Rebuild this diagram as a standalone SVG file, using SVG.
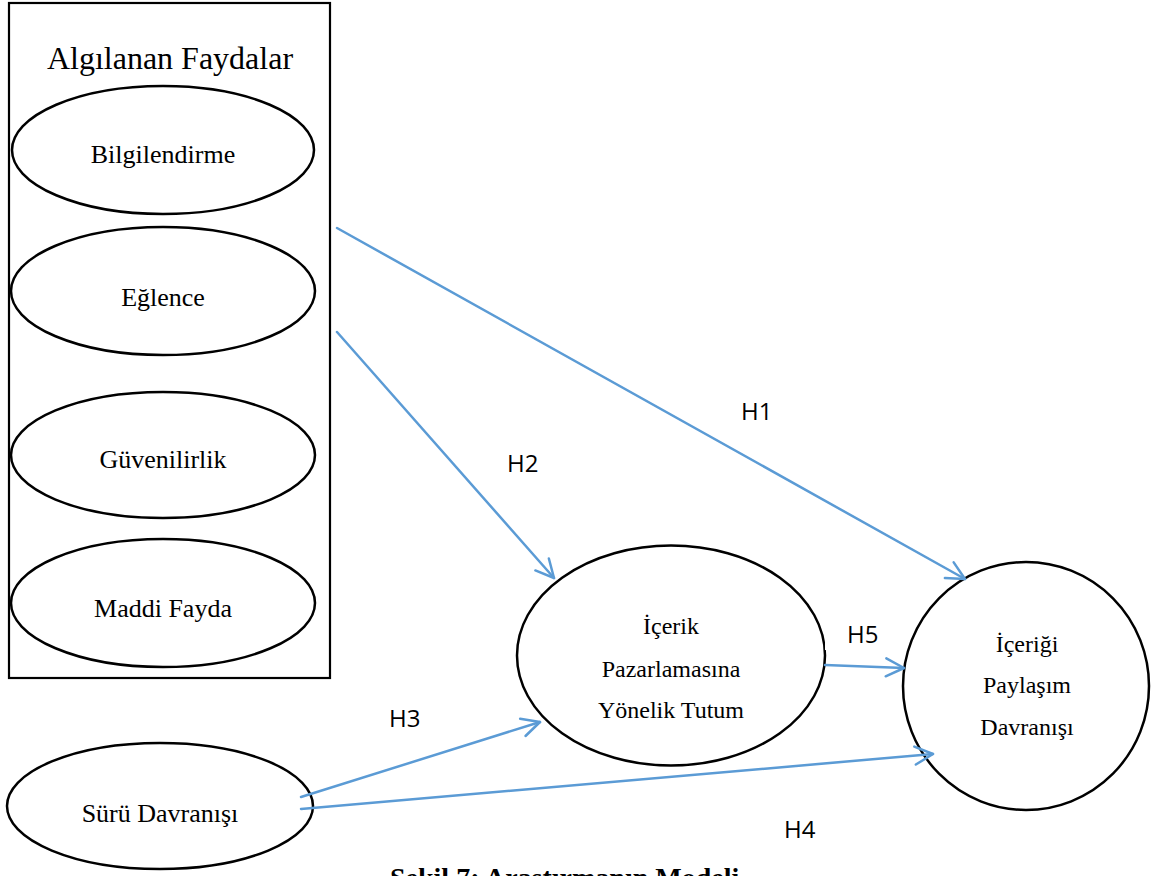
<svg xmlns="http://www.w3.org/2000/svg" width="1157" height="876" viewBox="0 0 1157 876">
  <style>
    .node { fill: #ffffff; stroke: #000000; stroke-width: 2.5; }
    .frame { fill: #ffffff; stroke: #000000; stroke-width: 2.2; }
    .lbl { font-family: "Liberation Serif", "Times New Roman", serif; fill: #000000; text-anchor: middle; }
    .small { font-size: 24px; }
    .mid { font-size: 26px; }
    .hyp { font-family: "Open Sans", "Noto Sans", sans-serif; font-size: 24px; fill: #000000; }
    .edge { fill: none; stroke: #5B9BD5; stroke-width: 2.5; stroke-linecap: round; }
    .cap { font-family: "Liberation Serif", "Times New Roman", serif; font-weight: bold; font-size: 28px; fill: #000000; }
  </style>
  <defs>
    <marker id="open" markerUnits="userSpaceOnUse" markerWidth="22" markerHeight="22" refX="19" refY="10" orient="auto" overflow="visible">
      <path d="M1,1 L19,10 L1,19" fill="none" stroke="#5B9BD5" stroke-width="2.5" stroke-linecap="round" stroke-linejoin="round"/>
    </marker>
  </defs>

  <rect width="1157" height="876" fill="#ffffff"/>

  <!-- perceived benefits block -->
  <g id="benefits">
    <rect class="frame" x="9" y="3" width="321" height="675"/>
    <text class="lbl" x="170" y="69" font-size="32">Algılanan Faydalar</text>
  </g>
  <g id="bilgilendirme">
    <ellipse class="node" cx="163" cy="150" rx="151" ry="64"/>
    <text class="lbl mid" x="163" y="163">Bilgilendirme</text>
  </g>
  <g id="eglence">
    <ellipse class="node" cx="163" cy="291" rx="152" ry="64"/>
    <text class="lbl mid" x="163" y="306">Eğlence</text>
  </g>
  <g id="guvenilirlik">
    <ellipse class="node" cx="163" cy="455" rx="152" ry="63"/>
    <text class="lbl mid" x="163" y="468">Güvenilirlik</text>
  </g>
  <g id="maddi-fayda">
    <ellipse class="node" cx="163" cy="603" rx="152" ry="64"/>
    <text class="lbl mid" x="163" y="617">Maddi Fayda</text>
  </g>

  <g id="suru-davranisi">
    <ellipse class="node" cx="160" cy="806" rx="153" ry="63"/>
    <text class="lbl mid" x="160" y="822">Sürü Davranışı</text>
  </g>

  <g id="tutum">
    <ellipse class="node" cx="671" cy="655.5" rx="154" ry="110"/>
    <text class="lbl small" x="671" y="634">İçerik</text>
    <text class="lbl small" x="671" y="677">Pazarlamasına</text>
    <text class="lbl small" x="671" y="718">Yönelik Tutum</text>
  </g>

  <g id="paylasim">
    <ellipse class="node" cx="1026" cy="686" rx="123" ry="124"/>
    <text class="lbl small" x="1027" y="652">İçeriği</text>
    <text class="lbl small" x="1027" y="693">Paylaşım</text>
    <text class="lbl small" x="1027" y="735">Davranışı</text>
  </g>

  <!-- hypothesis paths -->
  <g id="connectors">
    <line class="edge" x1="337" y1="228" x2="965" y2="579" marker-end="url(#open)"/>
    <line class="edge" x1="337" y1="332" x2="554" y2="578" marker-end="url(#open)"/>
    <line class="edge" x1="301" y1="797" x2="540" y2="722" marker-end="url(#open)"/>
    <line class="edge" x1="301" y1="809" x2="933" y2="754" marker-end="url(#open)"/>
    <line class="edge" x1="825" y1="665" x2="904" y2="668" marker-end="url(#open)"/>
  </g>

  <g id="hypothesis-labels">
    <text class="hyp" x="741" y="420">H1</text>
    <text class="hyp" x="507" y="472">H2</text>
    <rect x="367" y="692" width="78" height="52" fill="#ffffff"/>
    <text class="hyp" x="389" y="727">H3</text>
    <text class="hyp" x="784" y="838">H4</text>
    <rect x="825" y="578" width="65" height="72" fill="#ffffff"/>
    <text class="hyp" x="847" y="643">H5</text>
  </g>

  <text class="cap" x="390" y="887">Şekil 7: Araştırmanın Modeli</text>
</svg>
